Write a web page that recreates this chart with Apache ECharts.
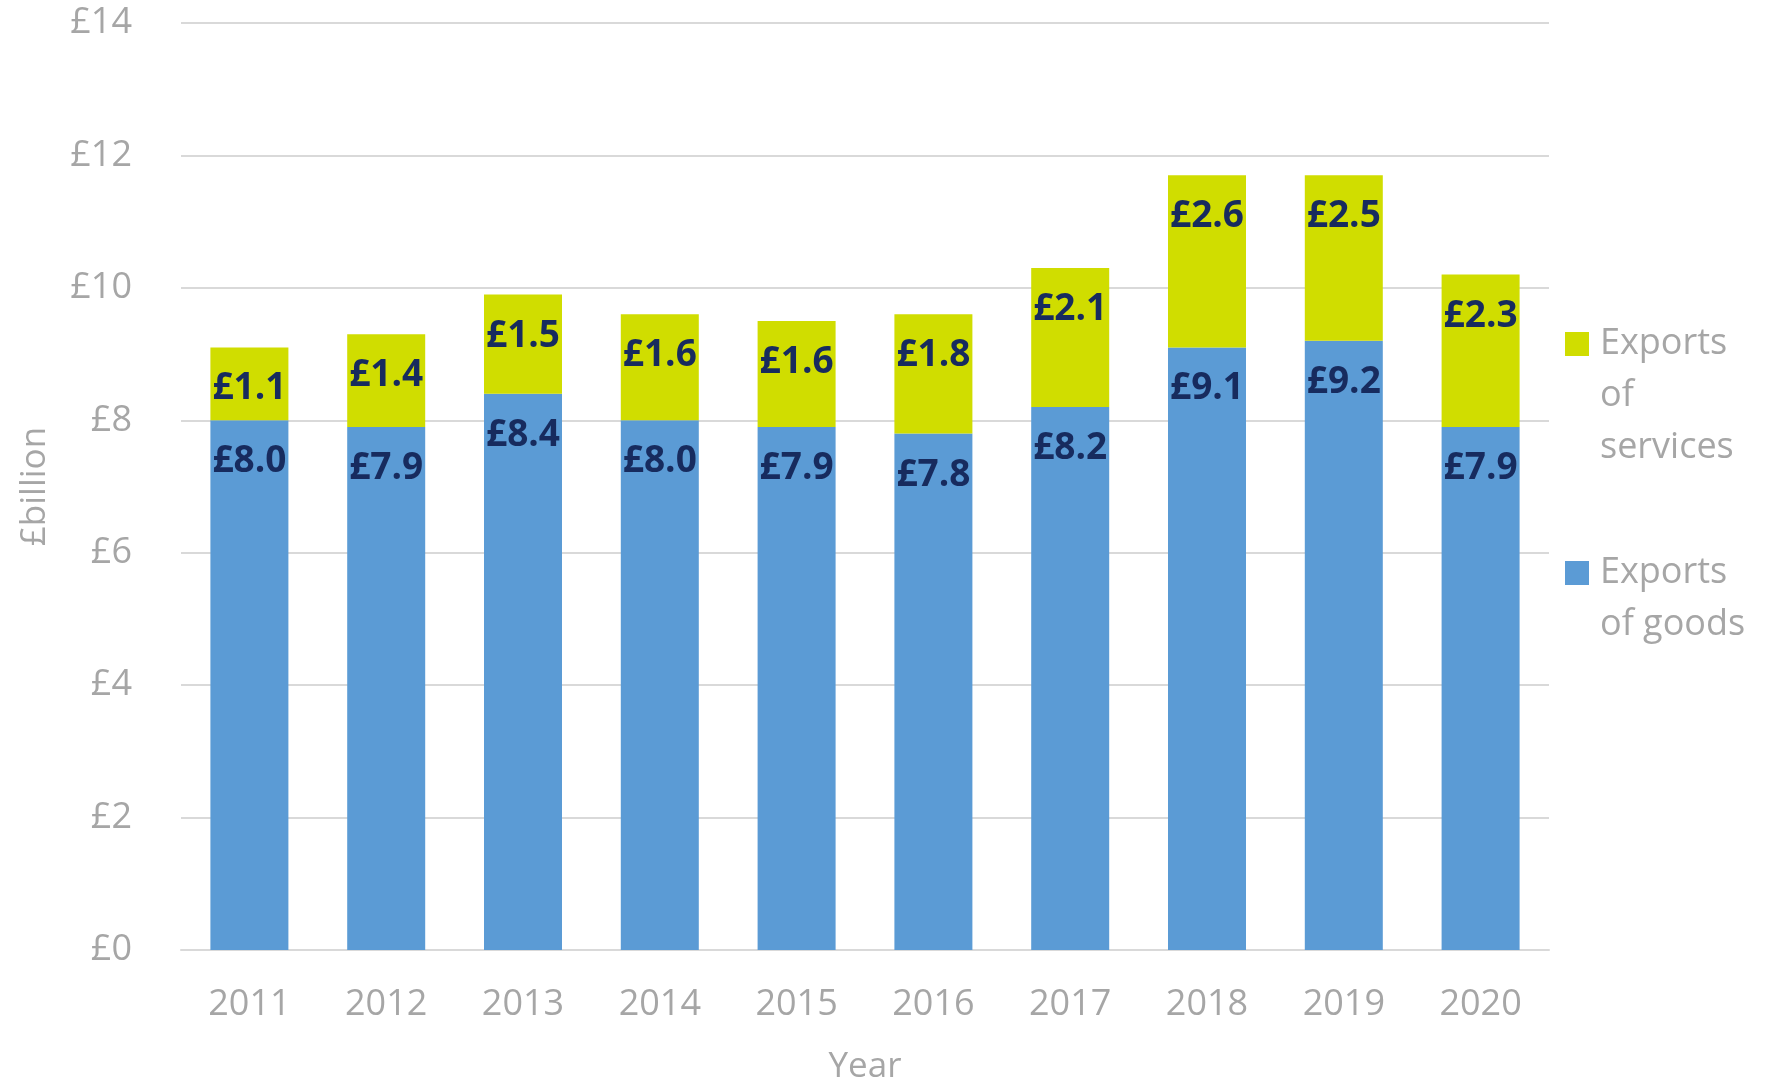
<!DOCTYPE html>
<html lang="en">
<head>
<meta charset="UTF-8">
<title>Exports of goods and services</title>
<style>
    html, body { margin: 0; padding: 0; background: #fff; }
    #echart { width: 1770px; height: 1080px; }
</style>
</head>
<body>

<div id="echart"></div>

<script src="https://cdn.jsdelivr.net/npm/echarts@6/dist/echarts.min.js"></script>
<script>
    const years = ["2011", "2012", "2013", "2014", "2015", "2016", "2017", "2018", "2019", "2020"];
    const goods = [8.0, 7.9, 8.4, 8.0, 7.9, 7.8, 8.2, 9.1, 9.2, 7.9];
    const services = [1.1, 1.4, 1.5, 1.6, 1.6, 1.8, 2.1, 2.6, 2.5, 2.3];

    const font = "'Open Sans', 'Noto Sans', sans-serif";
    const grey = "#A6A6A6";
    const lineH = 52;

    const myChart = echarts.init(document.getElementById("echart"));

    const barLabel = {
        show: true,
        position: "insideTop",
        distance: 23,
        color: "#172B5E",
        fontFamily: font,
        fontWeight: "bold",
        fontSize: 37,
        formatter: (p) => "£" + p.value.toFixed(1)
    };

    // one legend per series; leading blank lines push the icon up to the first text line,
    // a thin space widens the gap between icon and text
    function legendFor(name, lines, top) {
        const pad = new Array(lines.length - 1).fill("");
        return {
            data: [name],
            orient: "vertical",
            left: 1560,
            top: top,
            icon: "rect",
            itemWidth: 24,
            itemHeight: 24,
            itemGap: 0,
            textStyle: {
                color: grey,
                fontFamily: font,
                fontSize: 36,
                lineHeight: lineH
            },
            formatter: () => pad.concat(lines.map((l) => "\u2009" + l)).join("\n")
        };
    }

    const option = {
        animation: false,
        grid: { left: 181, right: 221, top: 23, bottom: 130, outerBoundsMode: "none" },
        legend: [
            legendFor("Exports of services", ["Exports", "of", "services"], 209),
            legendFor("Exports of goods", ["Exports", "of goods"], 490)
        ],
        xAxis: {
            type: "category",
            data: years,
            name: "Year",
            nameLocation: "middle",
            nameGap: 100,
            nameTextStyle: { color: grey, fontFamily: font, fontSize: 35 },
            axisLine: { lineStyle: { color: "#D9D9D9", width: 2 } },
            axisTick: { show: false },
            axisLabel: { color: grey, fontFamily: font, fontSize: 36, margin: 37 }
        },
        yAxis: {
            type: "value",
            min: 0,
            max: 14,
            interval: 2,
            name: "£billion",
            nameLocation: "middle",
            nameGap: 128,
            nameTextStyle: { color: grey, fontFamily: font, fontSize: 35 },
            axisLabel: {
                color: grey,
                fontFamily: font,
                fontSize: 36,
                margin: 49,
                formatter: (v) => "£" + v
            },
            splitLine: { lineStyle: { color: "#D9D9D9", width: 2 } }
        },
        series: [
            {
                name: "Exports of goods",
                type: "bar",
                stack: "total",
                barWidth: 78,
                data: goods,
                itemStyle: { color: "#5B9BD5" },
                label: barLabel
            },
            {
                name: "Exports of services",
                type: "bar",
                stack: "total",
                barWidth: 78,
                data: services,
                itemStyle: { color: "#D0DD00" },
                label: barLabel
            }
        ]
    };

    myChart.setOption(option);
</script>

</body>
</html>
